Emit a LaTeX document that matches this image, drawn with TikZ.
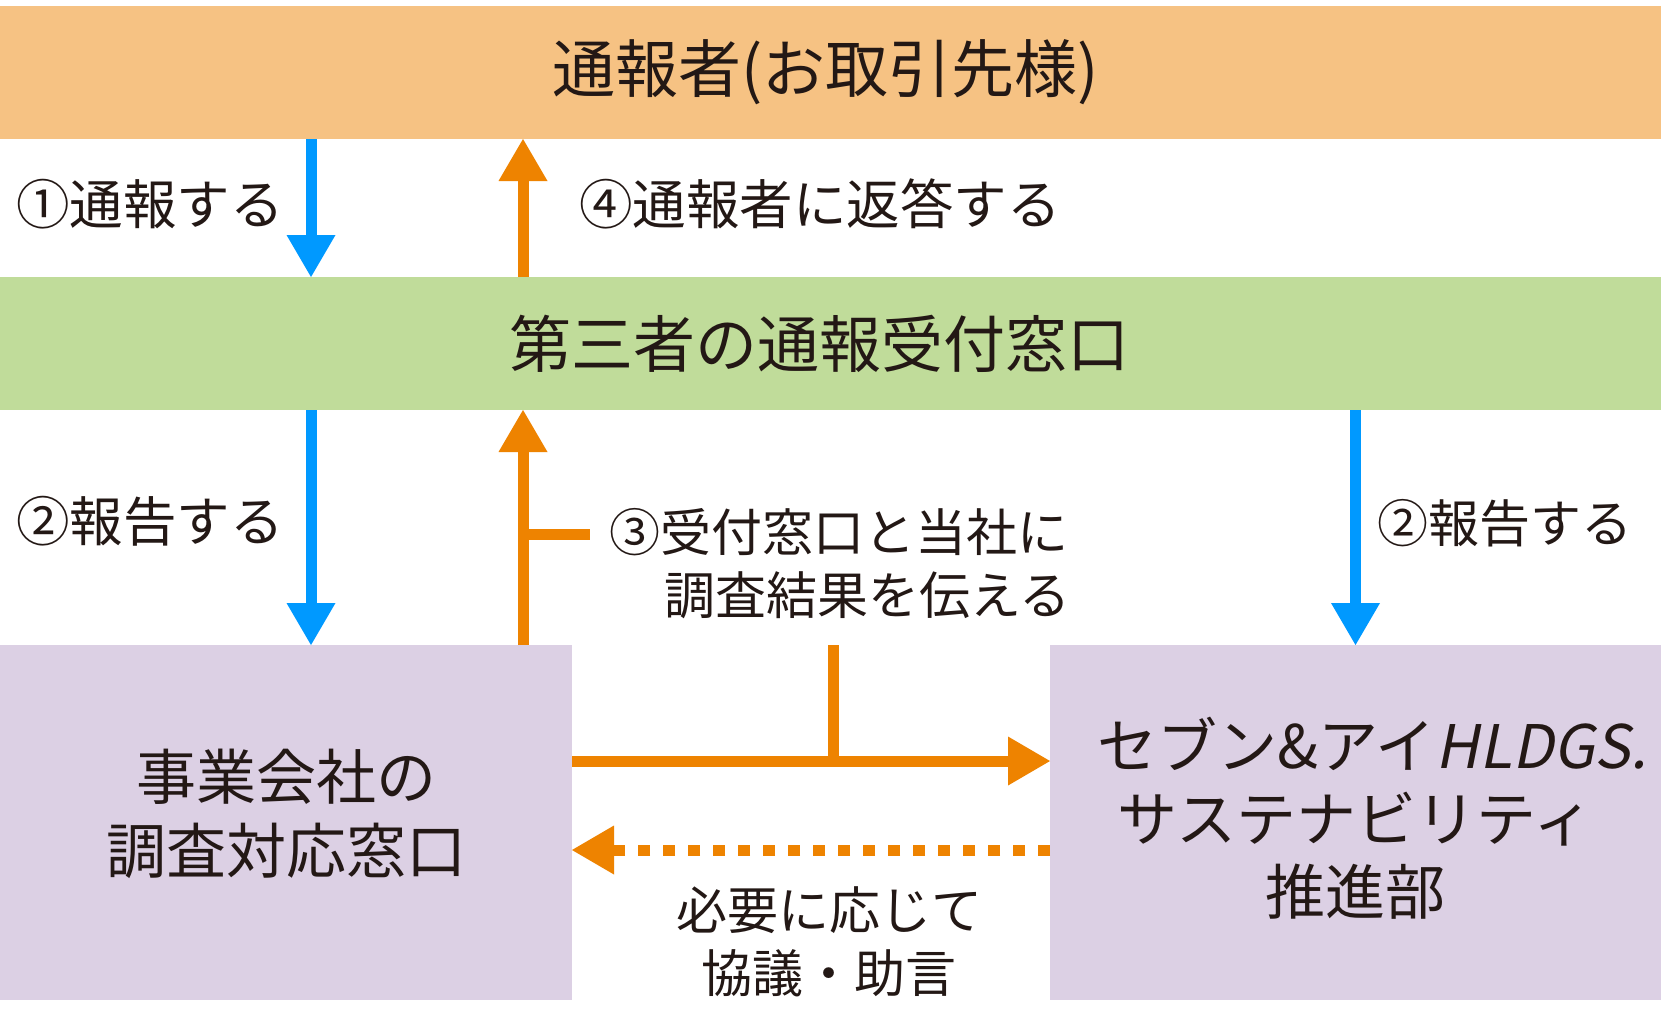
\documentclass[tikz,border=0pt]{standalone}
\usepackage{fontspec}
\setmainfont{Noto Sans CJK JP}
\newfontfamily\jpit[FakeSlant=0.2]{Noto Sans CJK JP}
\usetikzlibrary{arrows.meta,calc}
\definecolor{bandor}{RGB}{246,194,131}
\definecolor{bandgr}{RGB}{192,220,154}
\definecolor{boxpu}{RGB}{220,208,228}
\definecolor{arblue}{RGB}{0,153,255}
\definecolor{aror}{RGB}{238,131,0}
\definecolor{txt}{RGB}{35,24,21}
\begin{document}
\begin{tikzpicture}[x=1pt,y=-1pt,
  box/.style={draw=none, inner sep=0pt, outer sep=0pt, text=txt, align=center},
  boxtxt/.style={inner sep=0pt, text=txt, align=center},
  lbl/.style={inner sep=0pt, text=txt, font=\fontsize{51}{60}\selectfont},
  lblw/.style={inner sep=0pt, text=txt, font=\fontsize{53.5}{60}\selectfont},
  tipstyle/.style={-{Triangle[width=49pt,length=42pt,line width=0pt]}},
  bluearr/.style={draw=arblue, line width=11pt, tipstyle},
  orarr/.style={draw=aror, line width=11pt, tipstyle},
  orline/.style={draw=aror, line width=11pt},
]
\useasboundingbox (0,0) rectangle (1667,1015);
\fill[white] (0,0) rectangle (1667,1015);
% main blocks
\node[box, fill=bandor, minimum width=1661pt, minimum height=133pt, font=\fontsize{63}{74}\selectfont] (rep) at (830.5,72.5) {通報者(お取引先様)\hspace*{10pt}};
\node[box, fill=bandgr, minimum width=1661pt, minimum height=133pt, font=\fontsize{62}{74}\selectfont] (desk) at (830.5,343.5) {第三者の通報受付窓口\hspace*{22pt}};
\node[box, fill=boxpu, minimum width=572pt, minimum height=355pt] (co) at (286,822.5) {};
\node[box, fill=boxpu, minimum width=611pt, minimum height=355pt] (hq) at (1355.5,822.5) {};
\node[boxtxt, font=\fontsize{60}{74}\selectfont] (cotxt) at (co.center) [yshift=9pt] {事業会社の\\調査対応窓口};
\node[boxtxt, font=\fontsize{60}{73}\selectfont] (hqtxt) at (hq.center) [yshift=4pt] {\hspace*{34pt}セブン\&アイ{\jpit HLDGS.}\\サステナビリティ\\推進部};
% helper coordinates
\coordinate (xa) at (311,0);
\coordinate (xb) at (523,0);
\coordinate (xc) at (1355.5,0);
\coordinate (xd) at (833,0);
\coordinate (yh) at (0,761);
\coordinate (yd) at (0,850);
\coordinate (brend) at (590,534);
% connectors
\draw[bluearr] (rep.south -| xa) -- (desk.north -| xa);
\draw[orarr] (desk.north -| xb) -- (rep.south -| xb);
\draw[bluearr] (desk.south -| xa) -- (co.north -| xa);
\draw[bluearr] (desk.south -| xc) -- (hq.north -| xc);
\draw[orarr] (co.north -| xb) -- (desk.south -| xb);
\draw[orline] (brend -| xb) -- (brend);
\draw[orarr] (co.east |- yh) -- (hq.west |- yh);
\draw[orline] (co.north -| xd) -- (yh -| xd);
\draw[orarr, dash pattern=on 12.5pt off 12.5pt] (hq.west |- yd) -- (co.east |- yd);
% labels
\node[lblw, anchor=west] (l1) at (16,204) {①通報する};
\node[lblw, anchor=west] (l4) at (579,204) {④通報者に返答する};
\node[lblw, anchor=west] (l2a) at (16,521) {②報告する};
\node[lbl, anchor=west] (l2b) at (1377,523) {②報告する};
\node[lbl, anchor=west] (l3a) at (609,532) {③受付窓口と当社に};
\node[lbl, anchor=west] (l3b) at (664,595) {調査結果を伝える};
\node[lbl, align=center, font=\fontsize{51}{63}\selectfont] (lc) at (829,942) {必要に応じて\\協議・助言};
\end{tikzpicture}
\end{document}
